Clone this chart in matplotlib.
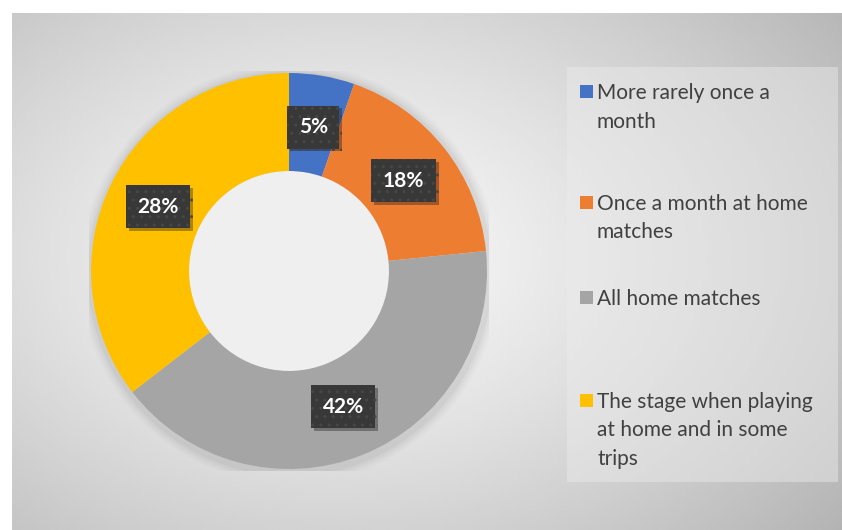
import matplotlib.pyplot as plt
import matplotlib.patheffects as pe
from matplotlib.patches import Rectangle, Circle
import numpy as np

plt.rcParams['font.family'] = ['Lato', 'DejaVu Sans']

# slice sizes as drawn (degrees of the ring), and the labels printed on them
categories = ['More rarely once a\nmonth',
              'Once a month at home\nmatches',
              'All home matches',
              'The stage when playing\nat home and in some\ntrips']
shares = [19.2, 65.0, 148.1, 127.7]
pct_labels = ['5%', '18%', '42%', '28%']
colors = ['#4472C4', '#ED7D31', '#A5A5A5', '#FFC000']

W, H = 842, 530
fig = plt.figure(figsize=(W / 100, H / 100), dpi=100)
fig.patch.set_facecolor('white')

# gradient background of the chart area
bg = fig.add_axes([0, 0, 1, 1])
bg.set_xlim(0, W)
bg.set_ylim(H, 0)
bg.axis('off')
xx, yy = np.meshgrid(np.linspace(0, W, 300), np.linspace(0, H, 200))
d = np.sqrt(((xx - 330) / 560) ** 2 + ((yy - 250) / 380) ** 2)
shade = np.clip(0.975 - 0.22 * d ** 1.3, 0, 1)
bg.imshow(shade, cmap='gray', vmin=0, vmax=1, extent=[12, W, H, 13],
          aspect='auto', interpolation='bilinear')
bg.add_patch(Rectangle((567, 67), 271, 415, facecolor='#ececec', alpha=0.45,
                       edgecolor='none'))

# donut
ax = fig.add_axes([89 / W, 59 / H, 400 / W, 400 / H])
for k, a in enumerate([0.03, 0.025, 0.02, 0.015]):
    r = 1.0 + 0.012 * (k + 1)
    ax.add_patch(Circle((0.005, -0.012), r, facecolor='#000000', alpha=a,
                        edgecolor='none', zorder=0))
ax.add_patch(Circle((0, 0), 0.5, facecolor='#efefef', edgecolor='none', zorder=0.5))
wedges, _ = ax.pie(shares, colors=colors, startangle=90, counterclock=False,
                   radius=0.99, wedgeprops=dict(width=0.49, edgecolor='none'))
ax.set_xlim(-1, 1)
ax.set_ylim(-1, 1)
ax.set_aspect('equal')
ax.axis('off')
for w in wedges:
    w.set_zorder(1)

for w, lab in zip(wedges, pct_labels):
    ang = np.deg2rad((w.theta1 + w.theta2) / 2)
    t = ax.text(0.73 * np.cos(ang), 0.73 * np.sin(ang), lab, ha='center',
                va='center', color='white', fontsize=15, fontweight='bold',
                zorder=5,
                bbox=dict(boxstyle='square,pad=0.55', facecolor='#383838',
                          edgecolor='#474747', linewidth=0, hatch='..'))
    t.get_bbox_patch().set_path_effects(
        [pe.SimplePatchShadow(offset=(2, -2), alpha=0.35), pe.Normal()])

# legend
baselines = [99, 210, 305, 408]
for lab, c, yb in zip(categories, colors, baselines):
    bg.add_patch(Rectangle((580, yb - 14), 13, 13, facecolor=c, edgecolor='none'))
    for i, line in enumerate(lab.split('\n')):
        bg.text(597, yb + 28.5 * i, line, fontsize=15, color='#404040',
                va='baseline', ha='left')

fig.savefig('out.png', dpi=100)
